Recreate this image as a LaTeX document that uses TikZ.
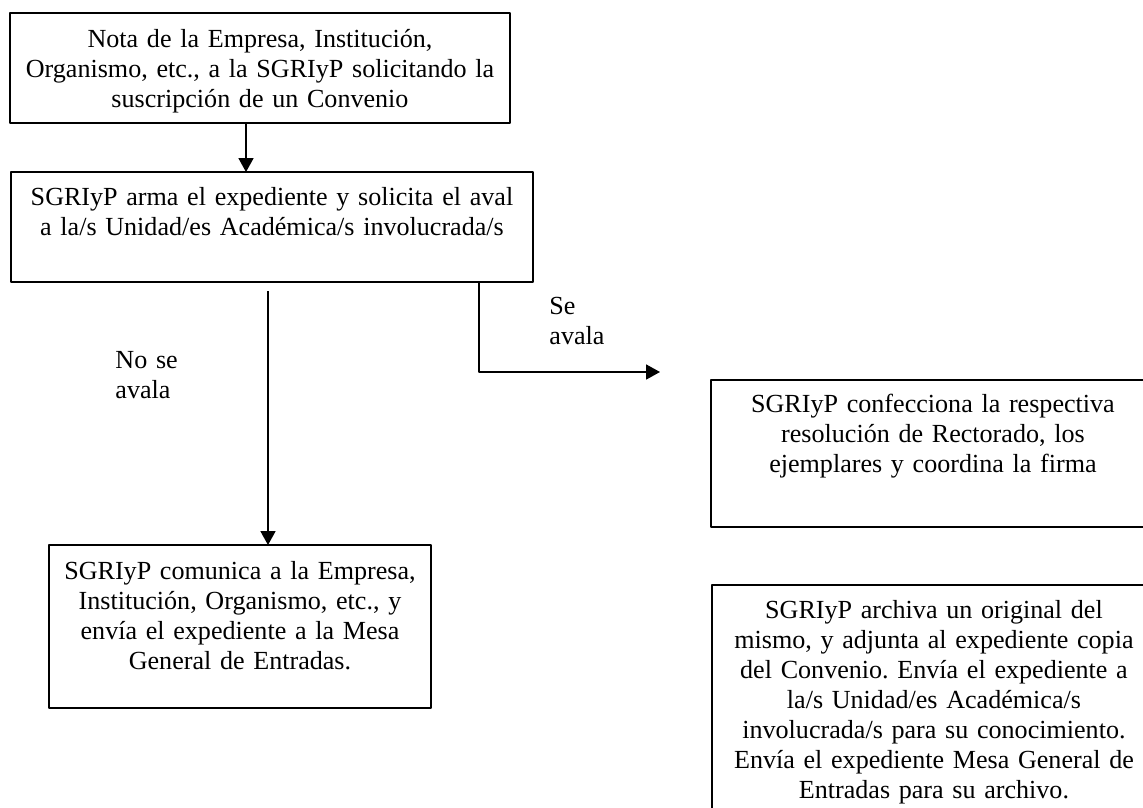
\documentclass[tikz,border=0pt]{standalone}
\usepackage{fontspec}
\setmainfont{Liberation Serif}
\frenchspacing
\usetikzlibrary{arrows.meta,positioning}
\tikzset{
	caja/.style={draw,line width=0.7pt,inner sep=0pt,outer sep=0pt,anchor=north west},
	txt/.style={text width=#1,align=center,inner sep=0pt,text height=8pt},
	rotulo/.style={text width=40pt,align=left,inner sep=0pt,text height=8pt,anchor=north west},
	flecha/.style={line width=0.7pt,-{Triangle[length=6.4pt,width=6.9pt]}}
}
\begin{document}
\begin{tikzpicture}[x=0.46pt,y=-0.46pt,line join=round,font=\fontsize{12}{13.8}\selectfont]
	\useasboundingbox (0,0) rectangle (1143,807);
	% cajas
	\node[caja,minimum width=230pt,minimum height=50.6pt] (nota) at (10,13) {};
	\node[caja,minimum width=240.1pt,minimum height=50.6pt] (arma) at (11,172) {};
	\node[caja,minimum width=175.7pt,minimum height=75pt] (comunica) at (49,545) {};
	\node[caja,minimum width=204.2pt,minimum height=67.6pt] (confecciona) at (711,380) {};
	\node[caja,minimum width=204.2pt,minimum height=119.6pt] (archiva) at (712,585) {};
	% textos
	\node[txt=226pt,below=7.6pt of nota.north] (tnota) {Nota de la Empresa, Institución,\\Organismo, etc., a la SGRIyP solicitando la\\suscripción de un Convenio};
	\node[txt=236pt,below=7.3pt of arma.north] (tarma) {SGRIyP arma el expediente y solicita el aval\\a la/s Unidad/es Académica/s involucrada/s};
	\node[txt=171pt,below=7.6pt of comunica.north] (tcomunica) {SGRIyP comunica a la Empresa,\\Institución, Organismo, etc., y\\envía el expediente a la Mesa\\General de Entradas.};
	\node[txt=200pt,below=6.8pt of confecciona.north] (tconfecciona) {SGRIyP confecciona la respectiva\\resolución de Rectorado, los\\ejemplares y coordina la firma};
	\node[txt=200pt,below=7.2pt of archiva.north] (tarchiva) {SGRIyP archiva un original del\\mismo, y adjunta al expediente copia\\del Convenio. Envía el expediente a\\la/s Unidad/es Académica/s\\involucrada/s para su conocimiento.\\Envía el expediente Mesa General de\\Entradas para su archivo.};
	\node[rotulo] (noavala) at (115,351) {No se\\avala};
	\node[rotulo] (siavala) at (549,297) {Se\\avala};
	% conectores
	\coordinate (a1) at (246,123);
	\coordinate (n1) at (268,291);
	\coordinate (s1) at (479,282);
	\coordinate (s2) at (660,372);
	\draw[flecha] (a1) -- (a1 |- arma.north);
	\draw[flecha] (n1) -- (n1 |- comunica.north);
	\draw[flecha] (s1 |- arma.south) |- (s2);
\end{tikzpicture}
\end{document}
